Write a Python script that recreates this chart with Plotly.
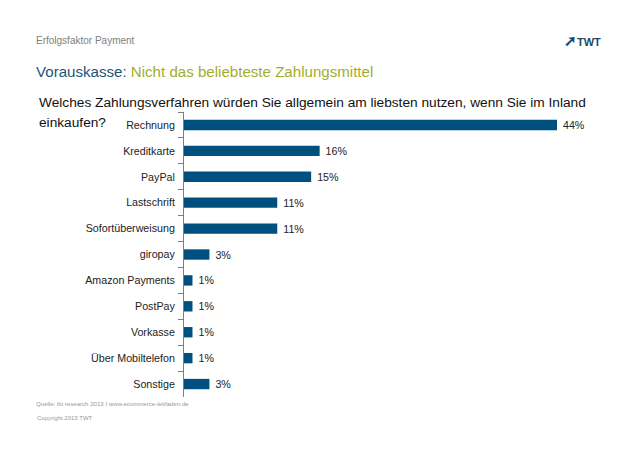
import plotly.graph_objects as go

categories = ["Rechnung", "Kreditkarte", "PayPal", "Lastschrift", "Sofortüberweisung", "giropay",
              "Amazon Payments", "PostPay", "Vorkasse", "Über Mobiltelefon", "Sonstige"]
values = [44, 16, 15, 11, 11, 3, 1, 1, 1, 1, 3]
labels = [f"\u00a0{v}%" for v in values]

W, H = 638, 451
FONT = "Liberation Sans"
# the page adds 8px around the figure, so margins are 8 smaller than what the picture shows
L, R, T, B = 176, 89, 104, 62


def note(x, y, text, size, color):
    # x,y in picture pixels, converted to paper coordinates
    return dict(x=(x - 8 - L) / (W - L - R), y=(H - B - (y - 8)) / (H - T - B), xref="paper", yref="paper",
                text=text, showarrow=False, xanchor="left", yanchor="middle", align="left",
                font=dict(family=FONT, size=size, color=color))


fig = go.Figure(go.Bar(
    x=values, y=categories, orientation="h", marker_color="#00507F", marker_line_width=0,
    text=labels, textposition="outside", cliponaxis=False, constraintext="none",
    textfont=dict(family=FONT, size=10.7, color="#222222"),
))
fig.update_layout(
    width=W, height=H, autosize=False, showlegend=False, bargap=0.6,
    margin=dict(l=L, r=R, t=T, b=B), paper_bgcolor="white", plot_bgcolor="white",
    font=dict(family=FONT),
)
fig.update_xaxes(range=[0, 44], visible=False)
fig.update_yaxes(autorange="reversed", type="category", tickson="boundaries", ticks="outside", ticklen=5,
                 tickcolor="#7f7f7f", showline=True, linecolor="#7f7f7f", linewidth=1, showgrid=False,
                 ticklabelstandoff=6, tickfont=dict(family=FONT, size=10.7, color="#222222"))

fig.add_annotation(note(34, 41, "Erfolgsfaktor Payment", 10, "#808080"))
fig.add_annotation(note(34, 71, '<span style="color:#1F5578">Vorauskasse:</span> Nicht das beliebteste Zahlungsmittel',
                        15.1, "#A3AD2D"))
fig.add_annotation(note(37, 103, "Welches Zahlungsverfahren würden Sie allgemein am liebsten nutzen, wenn Sie im Inland",
                        13.7, "#111111"))
fig.add_annotation(note(37, 122, "einkaufen?", 13.7, "#111111"))
fig.add_annotation(note(34, 403, "Quelle: ibi research 2013 I www.ecommerce-leitfaden.de", 6.1, "#999999"))
fig.add_annotation(note(35, 418, "Copyright 2013 TWT", 6, "#999999"))
fig.add_annotation(note(562, 41, '<b><span style="font-size:15px">➚</span>TWT</b>', 11, "#1F4A68"))

fig.write_html("out.html")
